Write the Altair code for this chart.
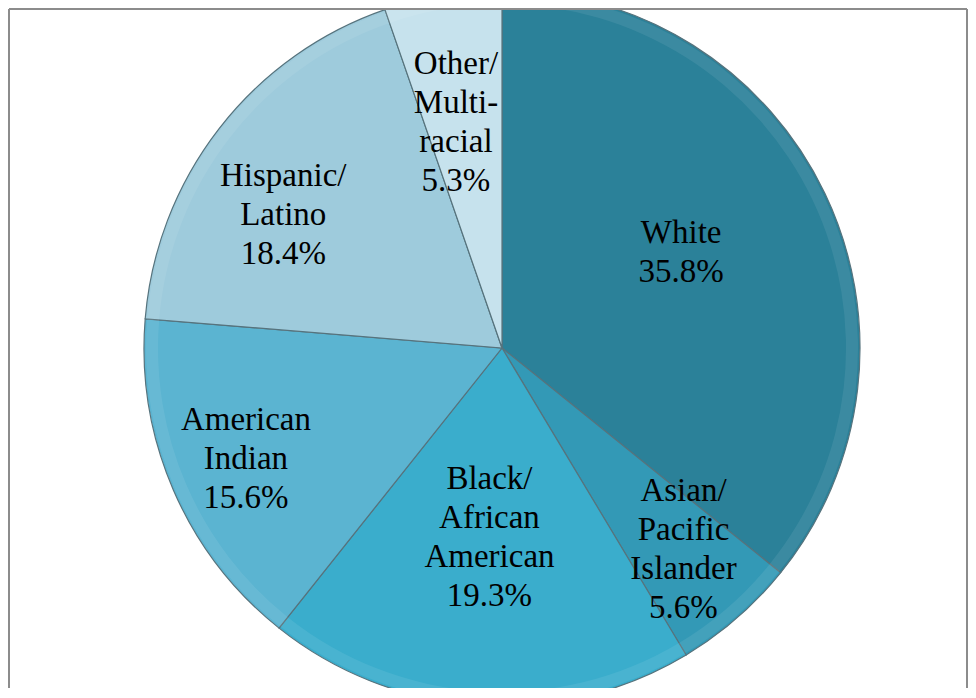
import altair as alt
import pandas as pd

categories = ["White", "Asian/Pacific Islander", "Black/African American",
              "American Indian", "Hispanic/Latino", "Other/Multi-racial"]
values = [35.8, 5.6, 19.3, 15.6, 18.4, 5.3]
label_lines = ["White", "Asian/\nPacific\nIslander", "Black/\nAfrican\nAmerican",
               "American\nIndian", "Hispanic/\nLatino", "Other/\nMulti-\nracial"]
colors = ["#2B8199", "#3399B6", "#3AADCC", "#5BB4D1", "#9ECBDC", "#C6E2ED"]

df = pd.DataFrame({
    "idx": list(range(len(categories))),
    "category": categories,
    "value": values,
    "lines": label_lines,
})

W, H = 960, 680
CX, CY = 494, 340
R = 358
LH = 39

# label placement (style): radius from centre and small angular nudge in degrees
label_r = ("{'White':203,'Asian/Pacific Islander':271,'Black/African American':190,"
           "'American Indian':279,'Hispanic/Latino':256,'Other/Multi-racial':230}[datum.category]")
label_nudge = ("{'White':-2.5,'Asian/Pacific Islander':-1,'Black/African American':0,"
               "'American Indian':0,'Hispanic/Latino':-6.5,'Other/Multi-racial':-2}[datum.category]")

base = alt.Chart(df)

pie = base.mark_arc(radius=R, stroke="#56737d", strokeWidth=1.2).encode(
    theta=alt.Theta("value:Q", stack=True),
    order=alt.Order("idx:Q"),
    color=alt.Color("category:N", scale=alt.Scale(domain=categories, range=colors), legend=None),
    x=alt.value(CX),
    y=alt.value(CY),
)

rim = base.mark_arc(radius=R - 2, radius2=R - 14, color="white", opacity=0.08).encode(
    theta=alt.Theta("value:Q", stack=True),
    order=alt.Order("idx:Q"),
    x=alt.value(CX),
    y=alt.value(CY),
)

labels = base.transform_joinaggregate(
    total="sum(value)"
).transform_window(
    cum="sum(value)", sort=[alt.SortField("idx", order="ascending")],
    frame=[None, 0]
).transform_calculate(
    mid=f"(datum.cum - datum.value / 2) / datum.total * 2 * PI + ({label_nudge}) * PI / 180",
    lr=label_r,
    nl="split(datum.lines, '\\n').length + 1",
    txt="datum.lines + '\\n' + format(datum.value, '.1f') + '%'",
).transform_calculate(
    px=f"{CX} + datum.lr * sin(datum.mid)",
    py=f"{CY} - datum.lr * cos(datum.mid) - (datum.nl - 1) * {LH} / 2",
).mark_text(
    font="Liberation Serif", fontSize=33, lineHeight=LH, color="black",
    align="center", baseline="middle", lineBreak="\n",
).encode(
    x=alt.X("px:Q", scale=None),
    y=alt.Y("py:Q", scale=None),
    text="txt:N",
)

frame_top = alt.Chart(df).mark_rule(color="#8c8c8c", strokeWidth=2).encode(
    x=alt.value(1), x2=alt.value(W - 1), y=alt.value(1))
frame_left = alt.Chart(df).mark_rule(color="#8c8c8c", strokeWidth=2).encode(
    x=alt.value(1), y=alt.value(1), y2=alt.value(H))
frame_right = alt.Chart(df).mark_rule(color="#8c8c8c", strokeWidth=2).encode(
    x=alt.value(W - 1), y=alt.value(1), y2=alt.value(H))

chart = alt.layer(pie, rim, labels, frame_top, frame_left, frame_right).properties(
    width=W, height=H, padding=0,
    autosize=alt.AutoSizeParams(type="none"),
).configure_view(stroke=None)

chart.save("out.html", embed_options={"renderer": "svg", "actions": False})
